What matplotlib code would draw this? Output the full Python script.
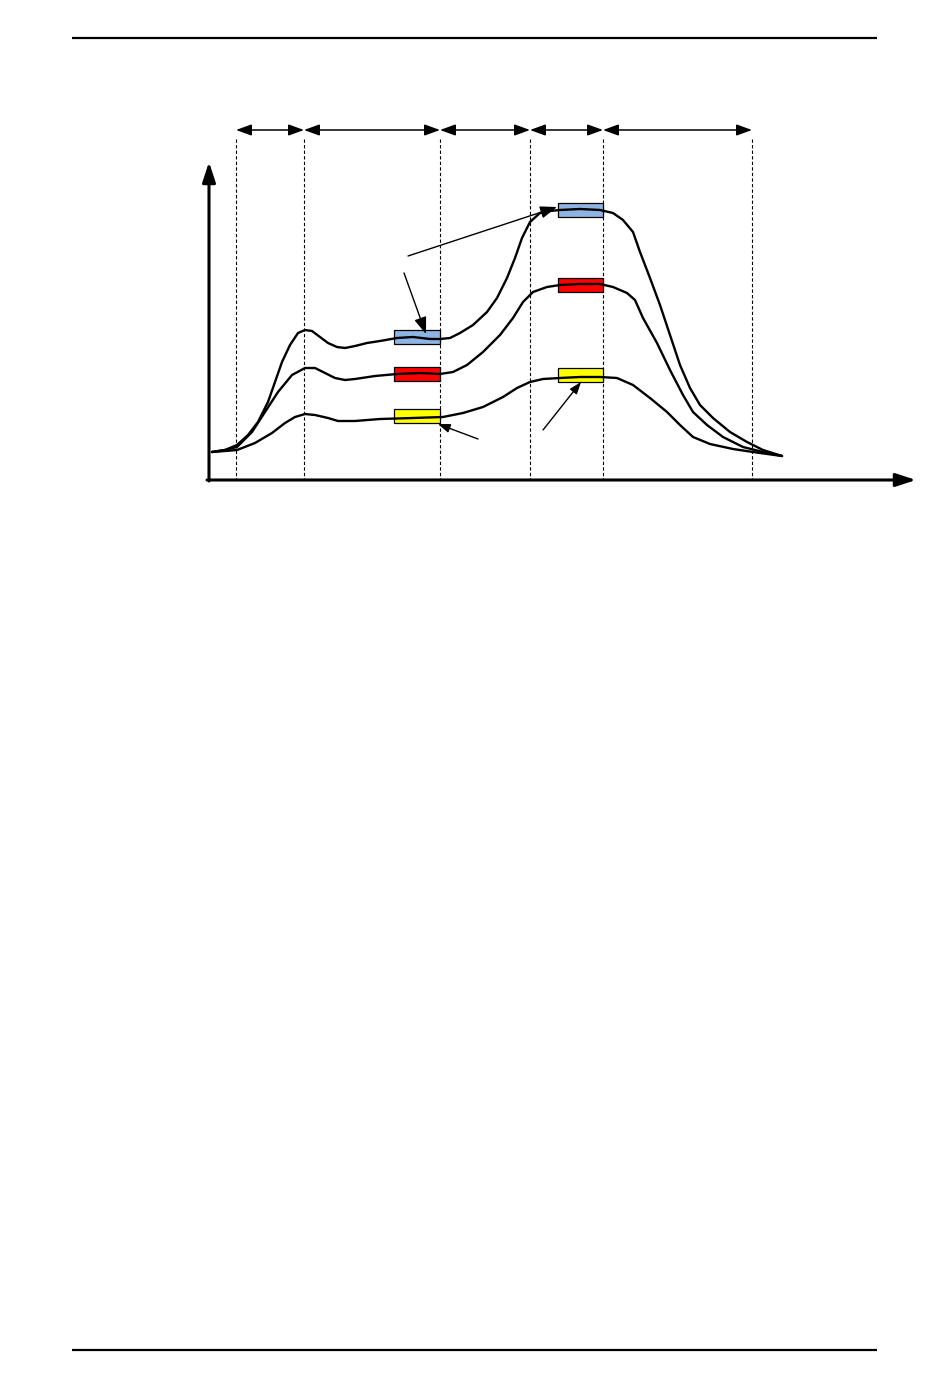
import numpy as np
import matplotlib
matplotlib.use('Agg')
from matplotlib import pyplot as plt
from matplotlib.patches import Rectangle

#-----Schematic values (page units, y grows downwards)---------------------
phase_edges = [236, 304, 440, 530, 603, 752]

top_x = [212, 225, 237, 248, 258, 268, 275, 282, 290, 298, 305, 312, 320, 328, 337, 345, 355, 367, 380,
         397, 413, 430, 440, 450, 460, 473, 487, 497, 507, 515, 522, 530, 540, 550, 560, 580, 600,
         613, 623, 633, 640, 650, 660, 670, 680, 690, 700, 713, 730, 747, 763, 782]
top_y = [452, 450, 445, 435, 422, 402, 382, 362, 345, 333, 330, 331, 337, 343, 347, 348, 346, 343, 341,
         338, 337, 339, 339, 338, 333, 325, 312, 298, 278, 258, 238, 222, 213, 211, 210, 209, 210,
         213, 220, 232, 252, 278, 305, 335, 365, 388, 405, 418, 432, 442, 450, 456]

mid_x = [212, 225, 237, 252, 265, 278, 292, 305, 315, 325, 335, 345, 355, 375, 397, 420, 440, 453, 467,
         483, 500, 513, 523, 533, 547, 560, 580, 600, 613, 627, 635, 643, 657, 670, 683, 693, 707,
         723, 743, 763, 782]
mid_y = [452, 450, 447, 432, 412, 392, 375, 368, 368, 373, 378, 380, 379, 376, 374, 373, 374, 372, 365,
         352, 335, 318, 302, 292, 287, 285, 284, 284, 287, 293, 300, 318, 343, 370, 395, 412, 425,
         437, 447, 452, 456]

low_x = [212, 225, 237, 255, 272, 285, 295, 305, 315, 328, 338, 355, 380, 413, 443, 463, 483, 503, 517,
         530, 543, 560, 580, 600, 617, 633, 650, 667, 680, 693, 710, 733, 753, 782]
low_y = [452, 451, 450, 443, 433, 423, 417, 414, 415, 418, 421, 421, 419, 418, 417, 413, 407, 397, 388,
         382, 379, 378, 377, 377, 378, 385, 398, 412, 425, 437, 444, 449, 452, 456]

box_colors = ['#8EB4E3', '#FF0000', '#FFFF00']
left_box_y = [330, 367, 409]
right_box_y = [203, 278, 368]

# pointer arrows: (start, end, head scale)
pointers = [((408, 256), (557, 207), 17),
            ((404, 273), (426, 334), 17),
            ((478, 439), (438, 424), 12),
            ((543, 430), (581, 382), 12)]

#-----Drawing---------------------------------------------------------------
fig = plt.figure(figsize=(9.5, 13.87), dpi=100)
ax = fig.add_axes([0, 0, 1, 1])
ax.set_xlim(0, 950)
ax.set_ylim(1387, 0)
ax.axis('off')

# page header / footer rules
ax.plot([72, 877], [38, 38], color='black', lw=1.6, solid_capstyle='butt')
ax.plot([72, 877], [1350, 1350], color='black', lw=1.6, solid_capstyle='butt')

# axes with arrow heads
axis_head = '-|>,head_length=0.55,head_width=0.18'
ax.annotate('', xy=(209, 162), xytext=(209, 481),
            arrowprops=dict(arrowstyle=axis_head, color='black', lw=2.2, mutation_scale=22, shrinkA=0, shrinkB=0))
ax.annotate('', xy=(916, 480), xytext=(207, 480),
            arrowprops=dict(arrowstyle=axis_head, color='black', lw=2.2, mutation_scale=22, shrinkA=0, shrinkB=0))

# phase separators and duration arrows
for xe in phase_edges:
    ax.plot([xe, xe], [139, 480], color='black', lw=0.8, ls=(0, (3, 2)))
for a, b in zip(phase_edges[:-1], phase_edges[1:]):
    ax.annotate('', xy=(b, 130), xytext=(a, 130),
                arrowprops=dict(arrowstyle='<|-|>,head_length=0.55,head_width=0.2', color='black', lw=1.1,
                                mutation_scale=17, shrinkA=0, shrinkB=0))

# coloured boxes
for c, yl, yr in zip(box_colors, left_box_y, right_box_y):
    ax.add_patch(Rectangle((394, yl), 46, 14, facecolor=c, edgecolor='black', lw=0.9, zorder=2))
    ax.add_patch(Rectangle((558, yr), 45, 14, facecolor=c, edgecolor='black', lw=0.9, zorder=2))

# curves
for xs, ys in [(top_x, top_y), (mid_x, mid_y), (low_x, low_y)]:
    ax.plot(xs, ys, color='black', lw=1.7, solid_joinstyle='round', solid_capstyle='round', zorder=3)

# pointer arrows
for (x0, y0), (x1, y1), ms in pointers:
    ax.annotate('', xy=(x1, y1), xytext=(x0, y0),
                arrowprops=dict(arrowstyle='-|>,head_length=0.6,head_width=0.22', color='black', lw=1.0,
                                mutation_scale=ms, shrinkA=0, shrinkB=0),
                zorder=4)

fig.savefig('out.png', dpi=100, facecolor='white')
